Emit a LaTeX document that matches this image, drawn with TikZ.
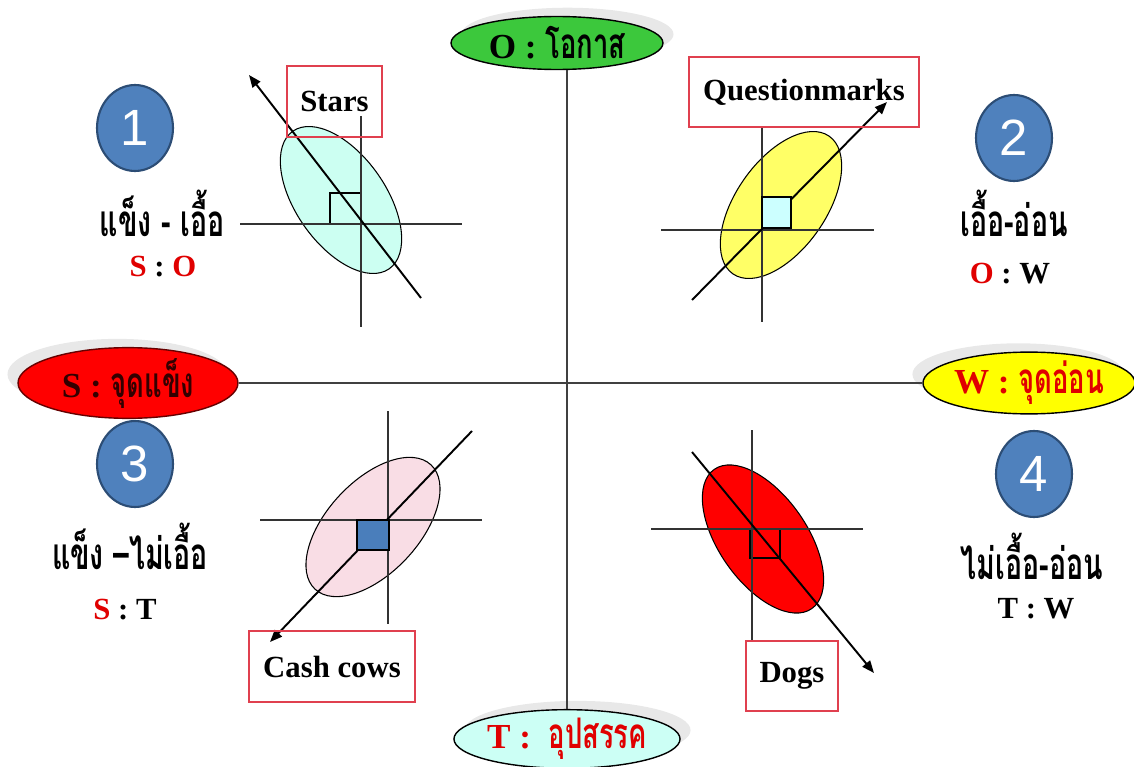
\documentclass[tikz,border=0pt]{standalone}
\usepackage{fontspec}
\setmainfont{Liberation Serif}
\setsansfont{Liberation Sans}
\newfontfamily\thai[Script=Thai,FakeStretch=0.65]{Loma}
\usetikzlibrary{arrows.meta,shapes.geometric,shadows}

\definecolor{numblue}{HTML}{4F81BD}
\definecolor{numedge}{HTML}{2C4D75}
\definecolor{boxred}{HTML}{E0404F}
\definecolor{txtred}{HTML}{E00000}
\definecolor{oppgreen}{HTML}{3CC83C}
\definecolor{strred}{HTML}{FF0000}
\definecolor{weakyellow}{HTML}{FFFF00}
\definecolor{threatcyan}{HTML}{CCFFF5}
\definecolor{starfill}{HTML}{CCFFF2}
\definecolor{qmfill}{HTML}{FFFF66}
\definecolor{qmsquare}{HTML}{CCFFFF}
\definecolor{cowfill}{HTML}{F9DDE5}
\definecolor{cowsquare}{HTML}{4A7EBB}
\definecolor{dogfill}{HTML}{FF0000}

\newcommand{\bigthai}[1]{{\thai\bfseries\fontsize{24}{24}\selectfont #1}}

\begin{document}
\begin{tikzpicture}[x=0.02cm, y=0.02cm,
    axislabel/.style={shape=ellipse, draw=black, line width=0.8pt, inner sep=0pt,
      minimum width=4.24cm, minimum height=1.06cm,
      font=\bfseries\fontsize{20}{20}\selectfont},
    numball/.style={shape=ellipse, draw=numedge, line width=1.2pt, fill=numblue,
      text=white, inner sep=0pt, minimum width=1.52cm, minimum height=1.72cm,
      font=\sffamily\fontsize{29}{29}\selectfont},
    groupbox/.style={shape=rectangle, draw=boxred, line width=0.7pt, inner sep=0pt,
      font=\bfseries\fontsize{17.5}{17.5}\selectfont},
    pairtext/.style={font=\bfseries\fontsize{17.5}{17.5}\selectfont},
    thaitext/.style={font=\thai\bfseries\fontsize{25}{25}\selectfont},
    crossline/.style={draw=black!80, line width=0.8pt},
    trend/.style={line width=1.1pt, -{Triangle[length=7pt,width=5.5pt]}},
    blob/.style={draw=black, line width=0.6pt},
    axisline/.style={draw=black!75, line width=0.8pt},
    cornerbox/.style={draw=black, line width=0.7pt},
    haze/.style={drop shadow={shadow xshift=#1, shadow yshift=5pt, fill=black!9, opacity=1}}]

  \useasboundingbox (0,0) rectangle (1134,-767);

  \node[axislabel, fill=oppgreen, haze=6pt] (O) at (557,-43) {O : \bigthai{โอกาส}};
  \node[axislabel, fill=strred, draw=black!60!red, minimum width=4.4cm, minimum height=1.2cm, haze=-6pt] (S) at (128,-383) {\textcolor{black!80!red}{S : \bigthai{จุดแข็ง}}};
  \node[axislabel, fill=weakyellow, minimum width=4.16cm, minimum height=1.2cm, haze=-6pt] (W) at (1029,-383) {\textcolor{txtred}{W : \bigthai{จุดอ่อน}}};
  \node[axislabel, fill=threatcyan, minimum height=1.08cm, haze=6pt] (T) at (567,-739) {\textcolor{txtred}{T :\ \ \bigthai{อุปสรรค}}};

  \draw[axisline] (T.north) -- (T.north |- O.south);
  \draw[axisline] (S.east) -- (W.west);

  \node[numball] (n1) at (135,-128) {1};
  \node[numball] (n2) at (1014,-138) {2};
  \node[numball] (n3) at (135,-464) {3};
  \node[numball] (n4) at (1034,-474) {4};

  \node[thaitext] (t1) at (162,-213) {แข็ง - เอื้อ};
  \node[pairtext] (p1) at (163,-267) {\textcolor{txtred}{S} : \textcolor{txtred}{O}};
  \node[thaitext] (t2) at (1014,-213) {เอื้อ-อ่อน};
  \node[pairtext] (p2) at (1010,-274) {\textcolor{txtred}{O} : W};
  \node[thaitext] (t3) at (130,-546) {แข็ง –ไม่เอื้อ};
  \node[pairtext] (p3) at (125,-610) {\textcolor{txtred}{S} : T};
  \node[thaitext] (t4) at (1032,-556) {ไม่เอื้อ-อ่อน};
  \node[pairtext] (p4) at (1036,-609) {T : W};

  % Stars
  \draw[blob, fill=starfill, rotate around={-55:(341,-200)}] (341,-200) ellipse (84 and 45);
  \draw[cornerbox] (330,-193) rectangle (361,-224);
  \coordinate (c1n) at (361,-116);
  \coordinate (c1s) at (361,-327);
  \coordinate (c1w) at (240,-224);
  \coordinate (c1e) at (462,-224);
  \draw[crossline] (c1n) -- (c1s);
  \draw[crossline] (c1w) -- (c1e);
  \coordinate (a1from) at (421,-298);
  \coordinate (a1to) at (249,-75);
  \draw[trend] (a1from) -- (a1to);
  \node[groupbox, minimum width=1.9cm, minimum height=1.42cm] (stars) at (334.5,-101.5) {Stars};

  % Questionmarks
  \draw[blob, fill=qmfill, rotate around={55:(781,-205)}] (781,-205) ellipse (84 and 45);
  \coordinate (c2n) at (762,-128);
  \coordinate (c2s) at (762,-322);
  \coordinate (c2w) at (661,-230);
  \coordinate (c2e) at (874,-230);
  \draw[crossline] (c2n) -- (c2s);
  \draw[crossline] (c2w) -- (c2e);
  \coordinate (a2from) at (692,-300);
  \coordinate (a2to) at (887,-102);
  \draw[trend] (a2from) -- (a2to);
  \draw[cornerbox, fill=qmsquare] (762,-197) rectangle (791,-228);
  \node[groupbox, minimum width=4.6cm, minimum height=1.4cm] (qm) at (804,-92) {Questionmarks};

  % Cash cows
  \draw[blob, fill=cowfill, rotate around={47:(373,-527)}] (373,-527) ellipse (85 and 46);
  \coordinate (c3n) at (388,-411);
  \coordinate (c3s) at (388,-624);
  \coordinate (c3w) at (260,-520);
  \coordinate (c3e) at (482,-520);
  \draw[crossline] (c3n) -- (c3s);
  \draw[crossline] (c3w) -- (c3e);
  \coordinate (a3from) at (472,-431);
  \coordinate (a3to) at (270,-642);
  \draw[trend] (a3from) -- (a3to);
  \draw[cornerbox, fill=cowsquare] (357,-520) rectangle (389,-550);
  \node[groupbox, minimum width=3.32cm, minimum height=1.42cm] (cows) at (332,-666.5) {Cash cows};

  % Dogs
  \draw[blob, fill=dogfill, rotate around={-55:(763,-539)}] (763,-539) ellipse (85 and 44);
  \draw[cornerbox] (750,-529) rectangle (780,-558);
  \coordinate (c4n) at (752,-430);
  \coordinate (c4s) at (752,-642);
  \coordinate (c4w) at (651,-529);
  \coordinate (c4e) at (863,-529);
  \draw[crossline] (c4n) -- (c4s);
  \draw[crossline] (c4w) -- (c4e);
  \coordinate (a4from) at (692,-452);
  \coordinate (a4to) at (874,-673);
  \draw[trend] (a4from) -- (a4to);
  \node[groupbox, minimum width=1.84cm, minimum height=1.4cm] (dogs) at (792,-676) {Dogs};
\end{tikzpicture}
\end{document}
